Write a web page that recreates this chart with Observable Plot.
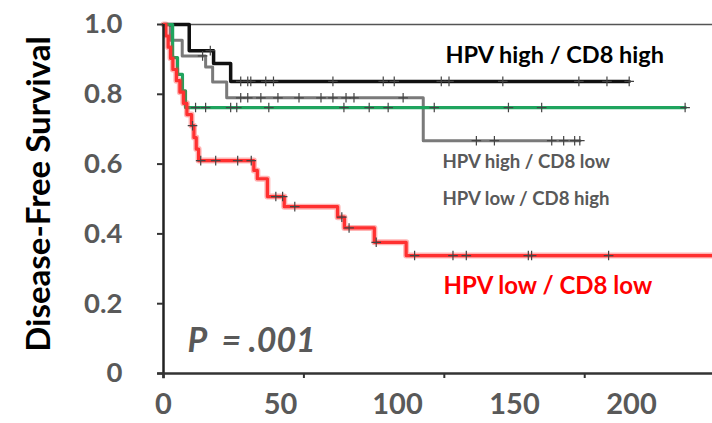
<!DOCTYPE html>
<html><head><meta charset="utf-8">
<script src="https://cdn.jsdelivr.net/npm/d3@7"></script>
<script src="https://cdn.jsdelivr.net/npm/@observablehq/plot@0.6"></script>
<style>
body{margin:0;background:#fff;font-family:Lato,sans-serif}
#chart svg{display:block}
</style>
</head><body><div id="chart"></div>
<script>
// ---- data (time in months, survival fraction) ----
const seriesNames = ["HPV high / CD8 high", "HPV high / CD8 low", "HPV low / CD8 high", "HPV low / CD8 low"];

const blackT = [0, 11, 21.4, 28.7, 199];
const blackS = [1.0, 0.925, 0.888, 0.837, 0.837];
const blackCensT = [20, 33, 36, 37.3, 43.7, 47, 72.4, 93.9, 98.6, 118.7, 122, 145, 177.5, 189.5, 199];
const blackCensS = [0.925, 0.837, 0.837, 0.837, 0.837, 0.837, 0.837, 0.837, 0.837, 0.837, 0.837, 0.837, 0.837, 0.837, 0.837];

const grayT = [0, 3, 8, 18, 21, 27, 111, 178];
const grayS = [1.0, 0.955, 0.91, 0.878, 0.835, 0.79, 0.667, 0.667];
const grayCensT = [16.7, 33, 36, 41.6, 48.9, 57.9, 67.3, 72.4, 78, 81.4, 102.4, 133.7, 141.4, 165.9, 171, 175.7, 177.9];
const grayCensS = [0.91, 0.79, 0.79, 0.79, 0.79, 0.79, 0.79, 0.79, 0.79, 0.79, 0.79, 0.667, 0.667, 0.667, 0.667, 0.667, 0.667];

const greenT = [0, 3.9, 6, 8.1, 9.4, 223];
const greenS = [1.0, 0.905, 0.857, 0.81, 0.762, 0.762];
const greenCensT = [13.7, 18, 28.7, 31.3, 45, 77.1, 87.9, 96, 115.7, 147.4, 161.6, 222.9];
const greenCensS = [0.762, 0.762, 0.762, 0.762, 0.762, 0.762, 0.762, 0.762, 0.762, 0.762, 0.762, 0.762];

const redT = [0, 1, 2, 3, 4, 5.5, 7, 8.5, 10, 12, 13, 14, 15, 38.6, 40.1, 44.4, 51.6, 74.4, 77.3, 90.1, 103.7, 235];
const redS = [1.0, 0.967, 0.935, 0.903, 0.871, 0.839, 0.806, 0.774, 0.742, 0.71, 0.676, 0.643, 0.61, 0.582, 0.558, 0.507, 0.478, 0.448, 0.417, 0.376, 0.338, 0.338];
const redCensT = [12.4, 15.9, 22.3, 31.7, 37.5, 48, 50.9, 56.1, 76.2, 79.3, 90.9, 107.3, 123.7, 129.4, 155.9, 157.3, 190.2];
const redCensS = [0.71, 0.61, 0.61, 0.61, 0.61, 0.507, 0.507, 0.478, 0.448, 0.417, 0.376, 0.338, 0.338, 0.338, 0.338, 0.338, 0.338];

const yTicks = [0, 0.2, 0.4, 0.6, 0.8, 1.0];
const yTickLabels = ["0", "0.2", "0.4", "0.6", "0.8", "1.0"];
const xTickMarks = [0, 60, 120, 180];
const xTickLabels = [0, 50, 100, 150, 200];
const pValueText = "P\u00a0 = .001";
const yTitle = "Disease-Free Survival";

const zip = (T, S) => T.map((t, i) => ({t, s: S[i]}));
const black = zip(blackT, blackS), gray = zip(grayT, grayS), green = zip(greenT, greenS), red = zip(redT, redS);
const censors = [
  ...zip(grayCensT, grayCensS), ...zip(blackCensT, blackCensS),
  ...zip(greenCensT, greenCensS), ...zip(redCensT, redCensS)
];

const plot = Plot.plot({
  width: 712, height: 423,
  marginLeft: 163, marginRight: 0, marginTop: 24, marginBottom: 50,
  style: {fontFamily: "Lato, sans-serif", background: "white", overflow: "visible"},
  x: {domain: [0, 234.6], axis: null},
  y: {domain: [0, 1], axis: null},
  marks: [
    Plot.ruleY([1], {stroke: "#555", strokeWidth: 1.5}),
    Plot.line(gray, {x: "t", y: "s", curve: "step-after", stroke: "#7a7a7a", strokeWidth: 3}),
    Plot.line(black, {x: "t", y: "s", curve: "step-after", stroke: "#111", strokeWidth: 3.5}),
    Plot.line(green, {x: "t", y: "s", curve: "step-after", stroke: "#1fa45e", strokeWidth: 3.2}),
    Plot.line(red, {x: "t", y: "s", curve: "step-after", stroke: "#ff2a2a", strokeOpacity: 0.35, strokeWidth: 6}),
    Plot.line(red, {x: "t", y: "s", curve: "step-after", stroke: "#ff3030", strokeWidth: 3.2}),
    Plot.dot(censors, {x: "t", y: "s", symbol: "plus", r: 3.2, stroke: "#444", strokeWidth: 1.2}),
    Plot.ruleX([0], {y1: -0.015, y2: 1, stroke: "#222", strokeWidth: 2.5}),
    Plot.ruleY([0], {x1: -2.5, x2: 234.6, stroke: "#333", strokeWidth: 2.5}),
    Plot.axisY(yTicks, {label: null, tickSize: 6, tickPadding: 35, tickFormat: (d, i) => yTickLabels[i],
      stroke: "#333", strokeWidth: 2, fill: "#595959", fontSize: 27.5, fontWeight: "bold"}),
    Plot.axisX(xTickMarks, {label: null, tickSize: 5, tickFormat: () => "", stroke: "#333", strokeWidth: 2}),
    Plot.axisX(xTickLabels, {label: null, tickSize: 0, tickPadding: 20, fill: "#595959", fontSize: 29, fontWeight: "bold"}),
    Plot.text([yTitle], {frameAnchor: "left", textAnchor: "middle", dx: -124, dy: -5, rotate: -90, fontSize: 33, fontWeight: "bold", fill: "#000"}),
    Plot.text([seriesNames[0]], {x: 120.5, y: 0.911, textAnchor: "start", fontSize: 23.5, fontWeight: "bold", fill: "#000"}),
    Plot.text([seriesNames[1]], {x: 119.2, y: 0.605, textAnchor: "start", fontSize: 18.6, fontWeight: "bold", fill: "#595959"}),
    Plot.text([seriesNames[2]], {x: 119.2, y: 0.499, textAnchor: "start", fontSize: 18.6, fontWeight: "bold", fill: "#595959"}),
    Plot.text([seriesNames[3]], {x: 119.7, y: 0.249, textAnchor: "start", fontSize: 24, fontWeight: "bold", fill: "#ff0000"}),
    Plot.text([pValueText], {x: 10.3, y: 0.092, textAnchor: "start", fontSize: 34, fontWeight: "bold", fontStyle: "italic", fill: "#595959"})
  ]
});
document.getElementById("chart").appendChild(plot);
</script>
</body></html>
